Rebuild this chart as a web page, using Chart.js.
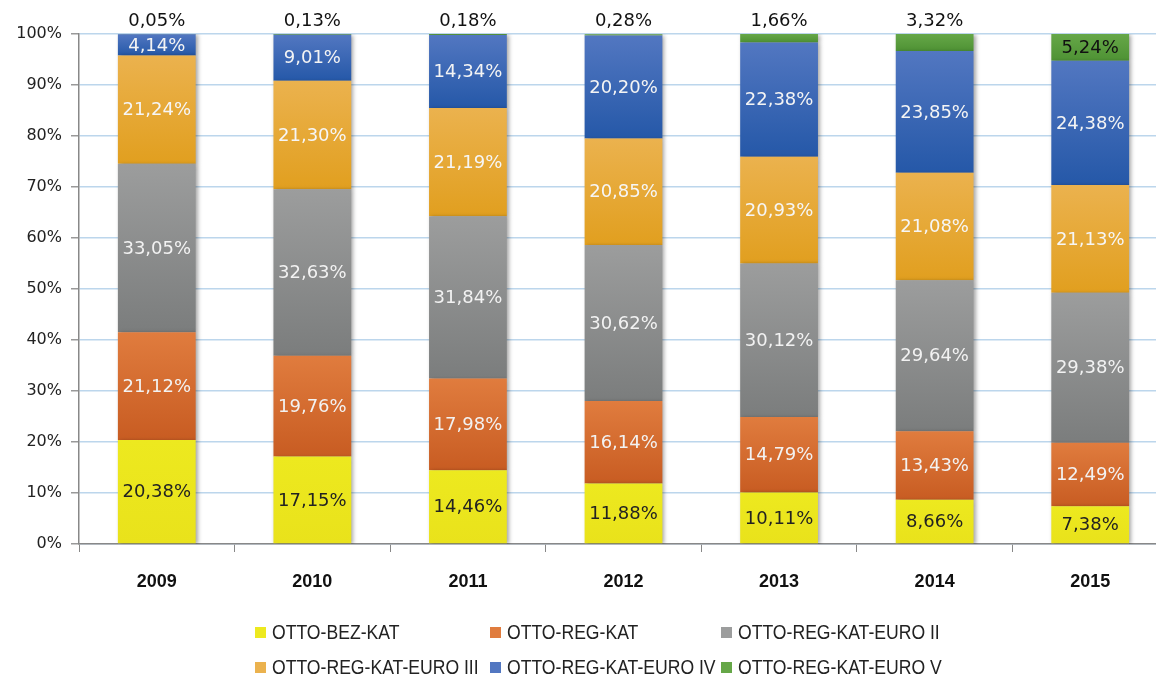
<!DOCTYPE html>
<html>
<head>
<meta charset="utf-8">
<script src="https://cdn.jsdelivr.net/npm/chart.js@4.4.1/dist/chart.umd.min.js"></script>
<style>
  html, body { margin:0; padding:0; background:#fff; overflow:hidden; }
  #wrap { position:relative; width:1168px; height:679px; }
  #legend {
    position:absolute; left:255px; top:615px;
    display:grid; grid-template-columns:235px 231px 240px; grid-auto-rows:35px;
    font-family:"Liberation Sans", Arial, sans-serif; font-size:20px; color:#222;
  }
  #legend div { display:flex; align-items:center; white-space:nowrap; }
  #legend .sw { display:inline-block; width:11px; height:11px; margin-right:6px; flex:none; }
  #legend .t { display:inline-block; transform:scaleX(0.88); transform-origin:left center; }
</style>
</head>
<body>
<div id="wrap">
  <canvas id="chart" width="1168" height="679"></canvas>
  <div id="legend"></div>
</div>
<script>
const years = ['2009','2010','2011','2012','2013','2014','2015'];
const seriesNames = ['OTTO-BEZ-KAT','OTTO-REG-KAT','OTTO-REG-KAT-EURO II','OTTO-REG-KAT-EURO III','OTTO-REG-KAT-EURO IV','OTTO-REG-KAT-EURO V'];

const bezKat   = [20.38, 17.15, 14.46, 11.88, 10.11, 8.66, 7.38];
const regKat   = [21.12, 19.76, 17.98, 16.14, 14.79, 13.43, 12.49];
const euro2    = [33.05, 32.63, 31.84, 30.62, 30.12, 29.64, 29.38];
const euro3    = [21.24, 21.30, 21.19, 20.85, 20.93, 21.08, 21.13];
const euro4    = [4.14, 9.01, 14.34, 20.20, 22.38, 23.85, 24.38];
const euro5    = [0.05, 0.13, 0.18, 0.28, 1.66, 3.32, 5.24];

const yTicks = [0,10,20,30,40,50,60,70,80,90,100];

const allSeries = [bezKat, regKat, euro2, euro3, euro4, euro5];
// [top colour, bottom colour, label colour]
const colours = [
  ['#ede91f','#e9e21b','#222'],
  ['#e07c3e','#c85c22','#f2f2f2'],
  ['#9c9d9d','#7b7d7d','#f2f2f2'],
  ['#ebb24e','#e19f1f','#f6f6f6'],
  ['#5277c1','#2558a8','#f4f4f4'],
  ['#66a748','#4e9234','#111']
];

function segFill(ctx, si){
  const chart = ctx.chart;
  const y = chart.scales.y;
  if (!y || ctx.dataIndex == null || !chart.chartArea) return colours[si][0];
  let start = 0;
  for (let k = 0; k < si; k++) start += allSeries[k][ctx.dataIndex];
  const end = start + allSeries[si][ctx.dataIndex];
  const g = chart.ctx.createLinearGradient(0, y.getPixelForValue(end), 0, y.getPixelForValue(start));
  g.addColorStop(0, colours[si][0]);
  g.addColorStop(1, colours[si][1]);
  return g;
}

const datasets = allSeries.map((vals, si) => ({
  label: seriesNames[si],
  data: vals,
  backgroundColor: ctx => segFill(ctx, si),
  borderWidth: 0,
  barPercentage: 1,
  categoryPercentage: 0.5
}));

const shadowPlugin = {
  id:'shadow',
  beforeDatasetsDraw(chart){
    const c = chart.ctx;
    c.save();
    c.shadowColor = 'rgba(0,0,0,0.35)';
    c.shadowBlur = 4;
    c.shadowOffsetX = 2;
    c.shadowOffsetY = 1;
  },
  afterDatasetsDraw(chart){ chart.ctx.restore(); }
};

const labelPlugin = {
  id:'segLabels',
  afterDatasetsDraw(chart){
    const c = chart.ctx;
    c.save();
    c.font = '18px "DejaVu Sans", Verdana, sans-serif';
    c.textAlign = 'center';
    c.textBaseline = 'middle';
    chart.data.datasets.forEach((ds, si) => {
      const meta = chart.getDatasetMeta(si);
      meta.data.forEach((bar, i) => {
        const v = ds.data[i];
        const txt = v.toFixed(2).replace('.', ',') + '%';
        let yy = (bar.y + bar.base) / 2;
        if (si === 5 && bar.base - bar.y < 20) yy = bar.y - 14;
        c.fillStyle = colours[si][2];
        c.fillText(txt, bar.x, yy + 1);
      });
    });
    c.restore();
  }
};

const chart = new Chart(document.getElementById('chart'), {
  type:'bar',
  data:{ labels: years, datasets },
  options:{
    responsive:false,
    animation:false,
    layout:{ padding:{ top:34, left:0, right:0, bottom:90 } },
    plugins:{ legend:{ display:false }, tooltip:{ enabled:false } },
    scales:{
      x:{
        stacked:true,
        grid:{ drawOnChartArea:false, drawTicks:true, tickLength:8, offset:true, color:'#888', tickColor:'#888' },
        border:{ color:'#888', width:1.5 },
        ticks:{ padding:19, color:'#111', font:{ family:'"Liberation Sans", Arial, sans-serif', size:18, weight:'bold' } },
        afterFit(s){ s.height = 45; }
      },
      y:{
        stacked:true, min:0, max:100,
        afterBuildTicks(s){ s.ticks = yTicks.map(v => ({ value:v })); },
        grid:{ color:'#bcd6ec', lineWidth:1.5, tickLength:8, tickColor:'#999' },
        border:{ color:'#888', width:1.5 },
        ticks:{ padding:9, color:'#222', font:{ family:'"DejaVu Sans", Tahoma, sans-serif', size:16 }, callback:v => v + '%' },
        afterFit(s){ s.width = 79; }
      }
    }
  },
  plugins:[shadowPlugin, labelPlugin]
});

const lg = document.getElementById('legend');
chart.data.datasets.forEach((ds, si) => {
  const d = document.createElement('div');
  const sw = document.createElement('span');
  sw.className = 'sw';
  sw.style.background = colours[si][0];
  const t = document.createElement('span');
  t.className = 't';
  t.textContent = ds.label;
  d.appendChild(sw);
  d.appendChild(t);
  lg.appendChild(d);
});
</script>
</body>
</html>
